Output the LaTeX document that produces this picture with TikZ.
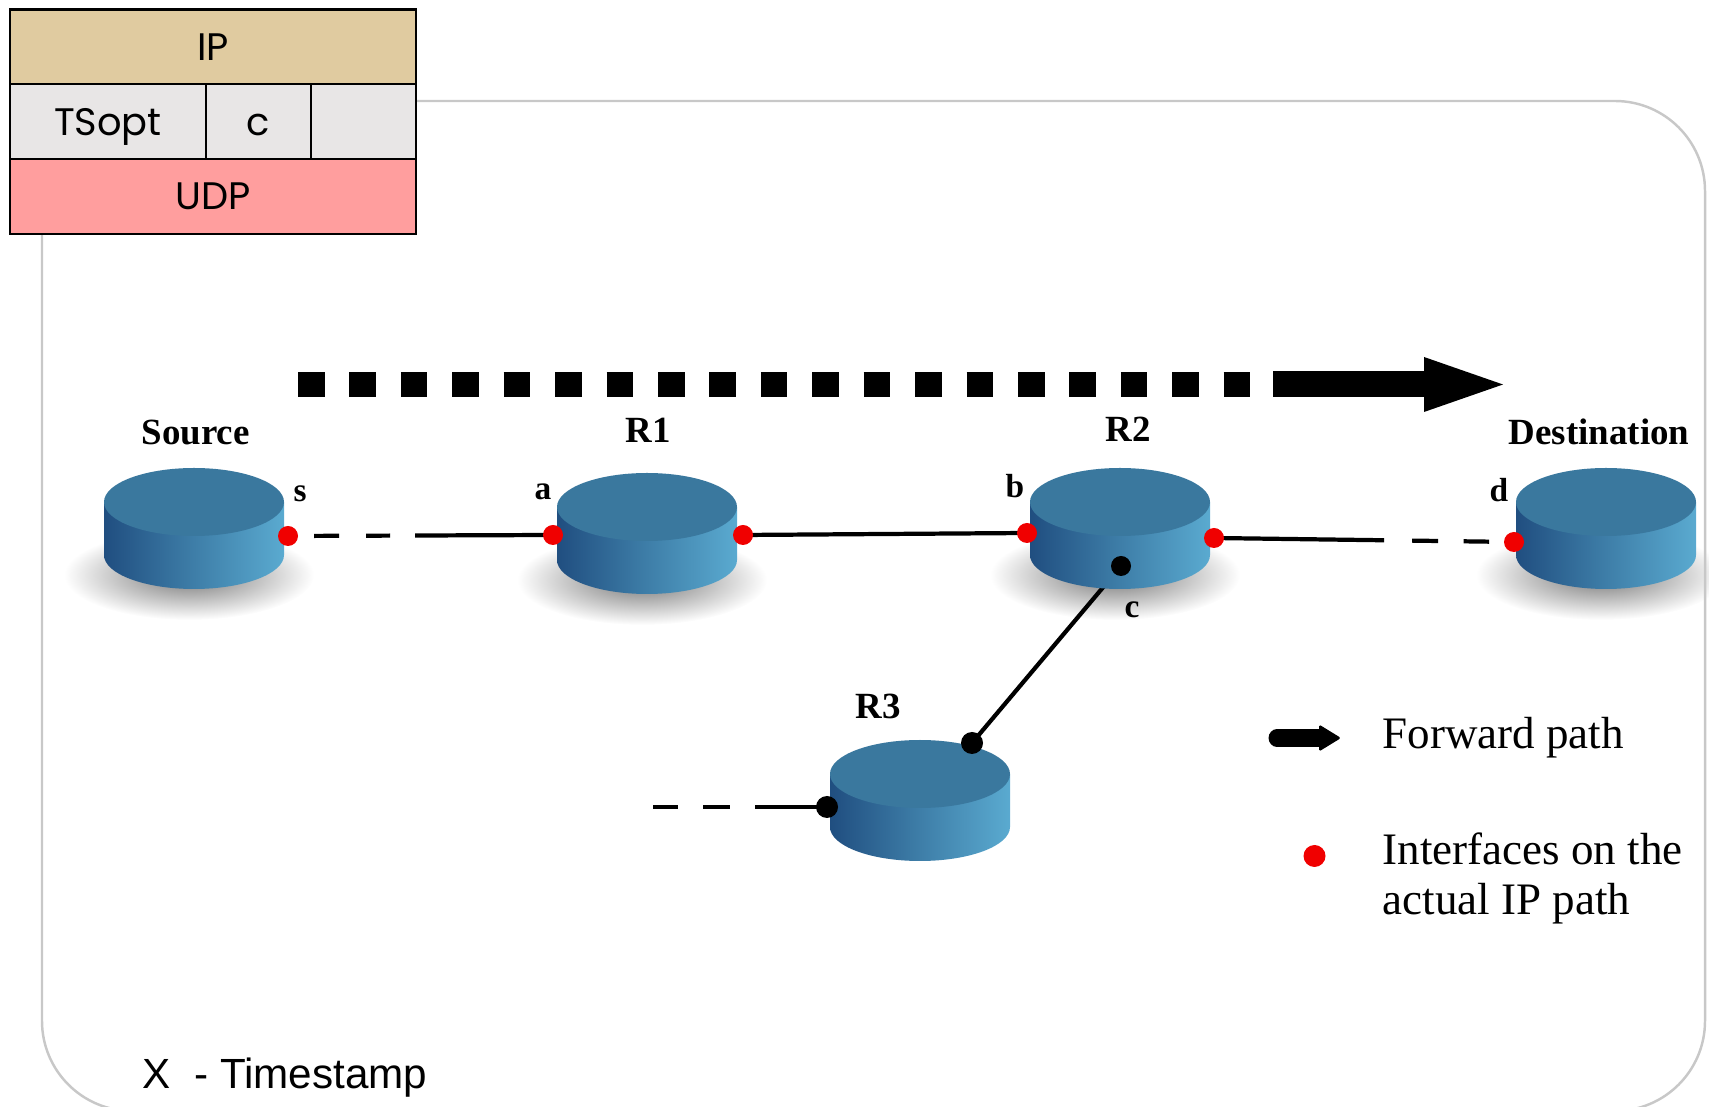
\documentclass[tikz,border=0pt]{standalone}
\usepackage{fontspec}
\setmainfont{Liberation Serif}
\newfontfamily\hdrfont{Poppins}
\newfontfamily\notefont{Liberation Sans}
\usetikzlibrary{calc}

\definecolor{iptan}{RGB}{224,203,160}
\definecolor{optgray}{RGB}{232,230,230}
\definecolor{udppink}{RGB}{255,158,158}
\definecolor{framegray}{RGB}{200,200,200}
\definecolor{diskTop}{RGB}{58,120,158}
\definecolor{diskDark}{RGB}{32,78,128}
\definecolor{diskMid}{RGB}{62,126,168}
\definecolor{diskLight}{RGB}{90,170,208}
\definecolor{ifred}{RGB}{240,0,0}

\tikzset{
  link/.style={line width=1.2pt},
  hdrcell/.style={line width=0.8pt},
  routername/.style={anchor=base, font=\bfseries\fontsize{10.5}{12}\selectfont},
  portname/.style={anchor=base, font=\bfseries\fontsize{9.5}{11}\selectfont},
  hdrtext/.style={anchor=base, font=\hdrfont\fontsize{10.9}{13}\selectfont},
  legendtext/.style={anchor=base west, inner xsep=0pt, font=\fontsize{12.8}{15}\selectfont},
}

\begin{document}
\begin{tikzpicture}[x=0.01cm, y=-0.01cm]
    \useasboundingbox (0,0) rectangle (1709,1107);
    \def\rx{90}
    \def\ry{34}
    \def\hgt{53}

    % --- Soft shadows under the disks ---
    \foreach \cx/\cy in {194/502, 647/507, 1120/502, 1606/502}
        \shade[inner color=black!55, outer color=white] (\cx-5,\cy+\hgt+20) ellipse [x radius=125, y radius=45];

    % --- Outer frame (rounded, light gray) ---
    \draw[framegray, line width=0.7pt, rounded corners=0.9cm] (42,101) rectangle (1705,1111);

    % --- Packet header: IP / options / UDP ---
    \filldraw[hdrcell, fill=iptan] (10,9.5) rectangle (416,84);
    \filldraw[hdrcell, fill=optgray] (10,84) rectangle (416,159);
    \filldraw[hdrcell, fill=udppink] (10,159) rectangle (416,234);
    \draw[hdrcell] (206,84) -- (206,159) (311,84) -- (311,159);
    \node[hdrtext] (ip) at (213,61) {IP};
    \node[hdrtext] (tsopt) at (108,136) {TSopt};
    \node[hdrtext] (cval) at (258.5,136) {c};
    \node[hdrtext] (udp) at (213,210) {UDP};

    % --- Forward direction: dotted bar ending in a big arrow ---
    \coordinate (fwdA) at (298,384.5);
    \coordinate (fwdB) at (1273,384.5);
    \coordinate (fwdTip) at (1503,384.5);
    \draw[line width=0.25cm, dash pattern=on 0.265cm off 0.249cm] (fwdA) -- (fwdB);
    \fill (1273,371.5) rectangle (1425,397.5);
    \fill (1424,357) -- (fwdTip) -- (1424,412) -- cycle;

    % --- Interfaces ---
    \coordinate (s) at (288,536);
    \coordinate (a) at (553,535);
    \coordinate (roneout) at (743,535);
    \coordinate (b) at (1027,533);
    \coordinate (rtwoout) at (1214,538);
    \coordinate (d) at (1514,542);
    \coordinate (c) at (1121,566);
    \coordinate (rthreeup) at (972,743);
    \coordinate (rthreein) at (827,807);
    \coordinate (rthreefar) at (653,807);

    % --- Links between interfaces ---
    \draw[link, dash pattern=on 0cm off 0.26cm on 0.25cm off 0.27cm on 0.24cm off 0.25cm on 3cm] (s) -- (a);
    \draw[link] (roneout) -- (b);
    \draw[link, dash pattern=on 1.7cm off 0.28cm on 0.26cm off 0.255cm on 0.255cm off 1cm] (rtwoout) -- (d);
    \draw[link] (c) -- (rthreeup);
    \draw[link, dash pattern=on 0.25cm off 0.25cm on 0.27cm off 0.25cm on 2cm] (rthreefar) -- (rthreein);

    % --- Disks: shaded side, flat top ---
    \foreach \cx/\cy in {194/502, 647/507, 1120/502, 1606/502, 920/774} {
        \shade[left color=diskDark, right color=diskLight, middle color=diskMid]
            (\cx-\rx,\cy) -- (\cx-\rx,\cy+\hgt)
            arc[start angle=180, end angle=0, x radius=\rx, y radius=\ry]
            -- (\cx+\rx,\cy) -- cycle;
        \fill[diskTop] (\cx,\cy) ellipse [x radius=\rx, y radius=\ry];
    }

    % --- Interface dots ---
    \foreach \p in {s, a, roneout, b, rtwoout, d}
        \fill[ifred] (\p) circle (10);
    \fill (c) circle (10);
    \fill (rthreeup) circle (11);
    \fill (rthreein) circle (11);

    % --- Names ---
    \node[routername] (srcname) at (195.5,445) {Source};
    \node[routername] (ronename) at (648,443) {R1};
    \node[routername] (rtwoname) at (1128,442) {R2};
    \node[routername] (dstname) at (1599,445) {Destination};
    \node[routername] (rthreename) at (878,719) {R3};
    \node[portname] (slbl) at (300,502) {s};
    \node[portname] (albl) at (543,500) {a};
    \node[portname] (blbl) at (1015,498) {b};
    \node[portname] (dlbl) at (1499,502) {d};
    \node[portname] (clbl) at (1132,618) {c};

    % --- Legend ---
    \draw[line width=0.17cm, line cap=round] (1277,738) -- (1322,738);
    \fill[rounded corners=0.5pt] (1319,724.5) -- (1341,738) -- (1319,751.5) -- cycle;
    \node[legendtext] (fwdtext) at (1382,749) {Forward path};
    \fill[ifred] (1314.5,856) circle (11);
    \node[legendtext] (iftexta) at (1382,865) {Interfaces on the};
    \node[legendtext] (iftextb) at (1382,915) {actual IP path};

    % --- Footnote ---
    \node[anchor=base west, inner xsep=0pt, font=\notefont\fontsize{12}{14}\selectfont] (tsnote) at (142,1088) {X\ \ - Timestamp};
\end{tikzpicture}
\end{document}
